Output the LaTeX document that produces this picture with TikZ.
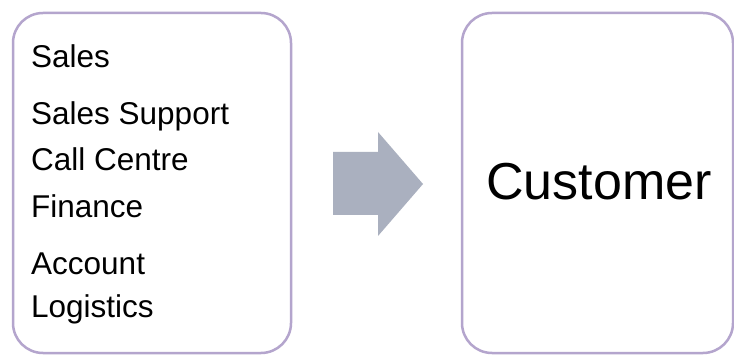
\documentclass[tikz,border=0pt]{standalone}
\usepackage{fontspec}
\setmainfont{Liberation Sans}
\definecolor{boxline}{HTML}{B4A5CD}
\definecolor{arrowgrey}{HTML}{AAB0BF}
\tikzset{
	dept/.style={anchor=base west, inner sep=0pt, font=\fontsize{31.5}{31.5}\selectfont},
	panel/.style={draw=boxline, line width=2.5pt, rounded corners=30pt, fill=white, inner sep=0pt}
}
\begin{document}
\begin{tikzpicture}[x=1pt,y=-1pt]
	\useasboundingbox[fill=white] (0,0) rectangle (734,358);
	\node [panel, minimum width=278pt, minimum height=340pt] (units) at (152,183) {};
	\node [panel, minimum width=271pt, minimum height=340pt] (client) at (597.5,183) {};
	\node [dept] (sales) at (31,68) {Sales};
	\node [dept] (support) at (31,125) {Sales Support};
	\node [dept] (callcentre) at (31,171) {Call Centre};
	\node [dept] (finance) at (31,218) {Finance};
	\node [dept] (account) at (31,275) {Account};
	\node [dept] (logistics) at (31,317) {Logistics};
	\node [anchor=base, inner sep=0pt, font=\fontsize{52}{52}\selectfont] (customer) at (599,200) {Customer};
	% block arrow between the two panels
	\fill [arrowgrey] (333,152) -- (378,152) -- (378,132) -- (423,184) -- (378,236) -- (378,215) -- (333,215) -- cycle;
\end{tikzpicture}
\end{document}
